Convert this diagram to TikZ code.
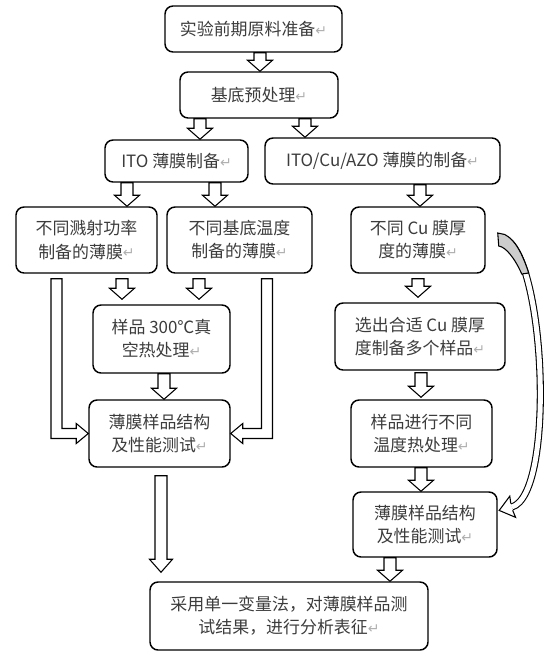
\documentclass[tikz,border=0pt]{standalone}
\usepackage{fontspec}
\setmainfont{Noto Sans CJK SC}
\newfontfamily\markfont{DejaVu Sans}
\usetikzlibrary{calc}
\definecolor{mytext}{RGB}{60,60,60}
\definecolor{mymark}{RGB}{175,175,175}
\definecolor{mywedge}{RGB}{205,205,205}
\newdimen\pxu \pxu=0.75pt
\newcommand{\parmark}{{\markfont\fontsize{10.5}{10}\selectfont\color{mymark}\raisebox{0.3pt}{↵}}}

% hollow block arrow pointing down: x, upper node, lower node, gap
\newcommand{\blkdown}[4]{%
  \coordinate (bx) at (#1,0);
  \coordinate (top) at ($(bx |- #2.south)+(0,#4)$);
  \coordinate (tip) at ($(bx |- #3.north)+(0,-#4)$);
  \draw[blk] ($(top)+(-6,0)$) -- ($(tip)+(-6,-11)$) -- ($(tip)+(-12.5,-11)$) -- (tip)
    -- ($(tip)+(12.5,-11)$) -- ($(tip)+(6,-11)$) -- ($(top)+(6,0)$) -- cycle;
}

\begin{document}
\begin{tikzpicture}[x=0.75pt, y=-0.75pt,
    box/.style={draw, line width=1.1pt, rounded corners=6pt, align=center, inner sep=0pt,
                text=mytext, font=\fontsize{12.7}{17.3}\selectfont},
    blk/.style={draw, line width=0.8pt, fill=white, line join=miter}]
    \useasboundingbox (0,0) rectangle (554,653);

    % top of the flow
    \node[box, minimum width=177\pxu, minimum height=46\pxu] (prep) at (253.5,29) {实验前期原料准备\parmark};
    \node[box, minimum width=158\pxu, minimum height=46\pxu] (sub) at (259,95) {基底预处理\parmark};

    % ITO branch
    \node[box, minimum width=143\pxu, minimum height=42\pxu] (ito) at (176.5,161) {ITO 薄膜制备\parmark};
    \node[box, minimum width=141\pxu, minimum height=66\pxu] (power) at (86.5,240) {不同溅射功率\\制备的薄膜\parmark};
    \node[box, minimum width=145\pxu, minimum height=66\pxu] (temp) at (239.5,240) {不同基底温度\\制备的薄膜\parmark};
    \node[box, minimum width=137\pxu, minimum height=68\pxu] (anneal) at (161.5,339) {样品 300℃真\\空热处理\parmark};
    \node[box, minimum width=141\pxu, minimum height=67\pxu] (testL) at (159.5,433.5) {薄膜样品结构\\及性能测试\parmark};

    % ITO/Cu/AZO branch
    \node[box, minimum width=235\pxu, minimum height=46\pxu] (multi) at (382.5,161) {ITO/Cu/AZO 薄膜的制备\parmark};
    \node[box, minimum width=134\pxu, minimum height=66\pxu] (cu) at (418,240) {不同 Cu 膜厚\\度的薄膜\parmark};
    \node[box, minimum width=170\pxu, minimum height=67\pxu] (select) at (420,336.5) {选出合适 Cu 膜厚\\度制备多个样品\parmark};
    \node[box, minimum width=141\pxu, minimum height=67\pxu] (heat) at (421.5,433.5) {样品进行不同\\温度热处理\parmark};
    \node[box, minimum width=144\pxu, minimum height=65\pxu] (testR) at (425,524.5) {薄膜样品结构\\及性能测试\parmark};

    % result
    \node[box, minimum width=278\pxu, minimum height=68\pxu] (final) at (289,616) {采用单一变量法，对薄膜样品测\\试结果，进行分析表征\parmark};

    % block arrows
    \blkdown{260}{prep}{sub}{0}
    \blkdown{200}{sub}{ito}{0}
    \blkdown{305}{sub}{multi}{0}
    \blkdown{127}{ito}{power}{0}
    \blkdown{215}{ito}{temp}{0}
    \blkdown{122}{power}{anneal}{5}
    \blkdown{199}{temp}{anneal}{5}
    \blkdown{164}{anneal}{testL}{0}
    \blkdown{420}{multi}{cu}{0}
    \blkdown{418}{cu}{select}{5}
    \blkdown{421}{select}{heat}{2}
    \blkdown{421}{heat}{testR}{0}
    \blkdown{390}{testR}{final}{0}

    % bypass arrows into the left test
    \coordinate (lx) at (56.5,0);
    \coordinate (ls) at ($(lx |- power.south)+(0,5)$);
    \coordinate (lc) at (ls |- testL.west);
    \draw[blk] ($(ls)+(-5.5,0)$) -- ($(lc)+(-5.5,5)$) -- ($(testL.west)+(-12,5)$) -- ($(testL.west)+(-12,10)$)
        -- (testL.west) -- ($(testL.west)+(-12,-10)$) -- ($(testL.west)+(-12,-5)$) -- ($(lc)+(5.5,-5)$)
        -- ($(ls)+(5.5,0)$) -- cycle;
    \coordinate (rx) at (267,0);
    \coordinate (rs) at ($(rx |- temp.south)+(0,5)$);
    \coordinate (rc) at (rs |- testL.east);
    \draw[blk] ($(rs)+(5.5,0)$) -- ($(rc)+(5.5,5)$) -- ($(testL.east)+(12,5)$) -- ($(testL.east)+(12,10)$)
        -- (testL.east) -- ($(testL.east)+(12,-10)$) -- ($(testL.east)+(12,-5)$) -- ($(rc)+(-5.5,-5)$)
        -- ($(rs)+(-5.5,0)$) -- cycle;

    % long arrow to the result
    \coordinate (dx) at (161,0);
    \coordinate (ds) at ($(dx |- testL.south)+(0,8)$);
    \coordinate (dt) at ($(dx |- final.north)+(0,-9)$);
    \draw[blk] ($(ds)+(-6,0)$) -- ($(dt)+(-6,-13)$) -- ($(dt)+(-11.5,-13)$) -- (dt)
        -- ($(dt)+(11.5,-13)$) -- ($(dt)+(6,-13)$) -- ($(ds)+(6,0)$) -- cycle;

    % curved arrow on the right
    \coordinate (cs) at ($(cu.east)+(18,-2)$);
    \coordinate (ce) at ($(testR.east)+(14,-17.5)$);
    \draw[line width=0.8pt, double=white, double distance=3.75pt] (cs) .. controls +(42,17) and +(44,-12) .. (ce);
    \begin{scope}[shift={(ce)}, rotate=195.3]
        \filldraw[fill=white, line width=0.8pt] (0,3.5) -- (-1,11) -- (13,0) -- (-1,-11) -- (0,-3.5);
    \end{scope}
    \begin{scope}[shift={(cs)}]
        \filldraw[fill=mywedge, line width=0.8pt] (-6,-5) -- (1,-3.5) .. controls (12,2) and (19,17) .. (25,35)
            -- (18,36) .. controls (11,20) and (2,9) .. (-5,8) -- cycle;
    \end{scope}
\end{tikzpicture}
\end{document}
